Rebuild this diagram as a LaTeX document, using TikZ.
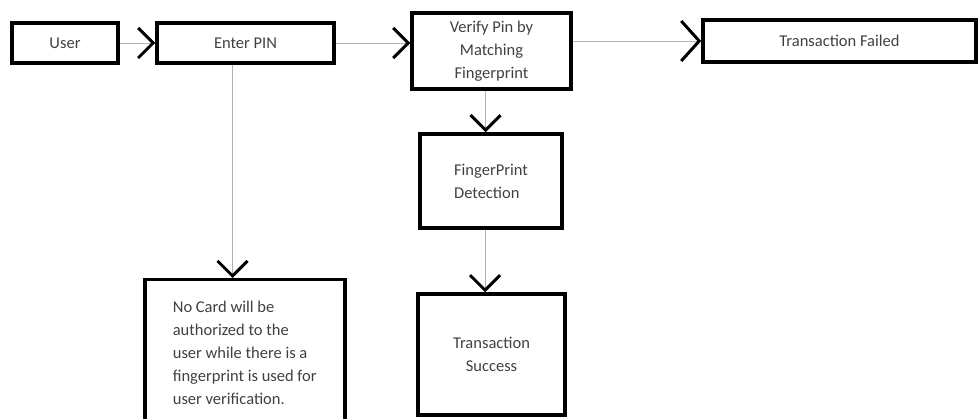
\documentclass[tikz,border=0pt]{standalone}
\usepackage{fontspec}
\setmainfont{Carlito}
\usetikzlibrary{arrows.meta,positioning}

\begin{document}
\begin{tikzpicture}[x=1pt,y=-1pt,
 box/.style={draw=black,line width=3.5pt,inner sep=0pt,text=black!75,font=\fontsize{16.5}{23}\selectfont},
 flow/.style={draw=gray!60,line width=0.9pt,-{Straight Barb[length=15pt,width=30pt,line width=3pt,color=black]}},
 bigflow/.style={flow,-{Straight Barb[length=18pt,width=40pt,line width=3pt,color=black]}}]
 \useasboundingbox (0,0) rectangle (980,419);
 % top row
 \node[box,minimum width=106,minimum height=40] (user) at (65,43) {User};
 \node[box,minimum width=177,minimum height=40] (pin) at (245.5,43) {Enter PIN};
 \node[box,minimum width=159,minimum height=76,align=center] (verify) at (491.5,51) {Verify Pin by\\Matching\\Fingerprint};
 \node[box,minimum width=273,minimum height=42] (failed) at (839.5,41) {Transaction Failed};
 % lower boxes
 \node[box,minimum width=142,minimum height=94,align=left] (detect) at (491,181) {FingerPrint\\Detection};
 \node[box,minimum width=147,minimum height=121,align=center] (success) at (491.5,354.5) {Transaction\\Success};
 \node[box,minimum width=200,minimum height=146,align=left,anchor=north west] (nocard) at (143,278)
  {No Card will be\\authorized to the\\user while there is a\\fingerprint is used for\\user verification.};
 % connectors
 \draw[flow] (user) -- (pin);
 \draw[flow] (pin.east) -- (pin.east -| verify.west);
 \draw[bigflow] (verify.east |- failed.west) -- (failed.west);
 \draw[flow] ([xshift=-6pt]verify.south) -- ([xshift=-6pt]verify.south |- detect.north);
 \draw[flow] ([xshift=-6pt]detect.south) -- ([xshift=-6pt]detect.south |- success.north);
 \draw[flow] ([xshift=-13pt]pin.south) -- ([xshift=-13pt]pin.south |- nocard.north);
\end{tikzpicture}
\end{document}
